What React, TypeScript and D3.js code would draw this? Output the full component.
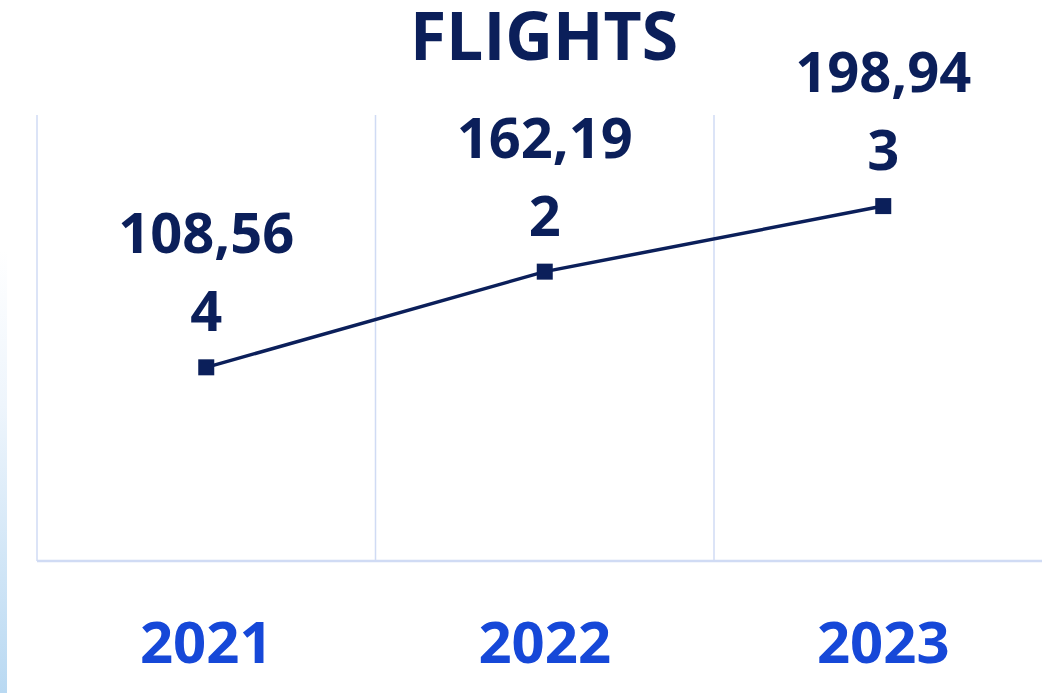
import React from "react";
import * as d3 from "d3";

const categories = ["2021", "2022", "2023"];
const flights = [108564, 162192, 198943];
const labelLine1 = ["108,56", "162,19", "198,94"];
const labelLine2 = ["4", "2", "3"];
const yDomain = [0, 250000];

const W = 1042, H = 693;
const left = 37, top = 115, bottom = 561, right = 1052.5;
const navy = "#0b1f5a";
const blue = "#1648d8";
const grid = "#d0dbf4";
const font = "'Open Sans', sans-serif";

export default function App() {
  const x = d3.scaleBand<string>().domain(categories).range([left, right]);
  const y = d3.scaleLinear().domain(yDomain).range([bottom, top]);
  const cx = (c: string) => (x(c) as number) + x.bandwidth() / 2;
  const line = d3.line<number>().x((_, i) => cx(categories[i])).y((d) => y(d));
  const gridXs = categories.map((c) => x(c) as number).concat([right]);

  return (
    <svg width={W} height={H} style={{ position: "absolute", left: 0, top: 0 }}>
      <defs>
        <linearGradient id="side" x1="0" y1="0" x2="0" y2="1">
          <stop offset="0" stopColor="#ffffff" />
          <stop offset="0.35" stopColor="#eef5fc" />
          <stop offset="1" stopColor="#b9d9f2" />
        </linearGradient>
      </defs>
      <rect x={0} y={0} width={W} height={H} fill="#ffffff" />
      <rect x={0} y={250} width={7} height={H - 250} fill="url(#side)" />
      {gridXs.map((gx, i) => (
        <line key={i} x1={gx} x2={gx} y1={top} y2={bottom} stroke={grid} strokeWidth={1.5} />
      ))}
      <line x1={left} x2={W} y1={bottom} y2={bottom} stroke={grid} strokeWidth={2.5} />
      <text x={544} y={60} textAnchor="middle" fontFamily={font} fontWeight={700} fontSize={66} fill={navy}>
        FLIGHTS
      </text>
      <path d={line(flights) || ""} fill="none" stroke={navy} strokeWidth={3.5} />
      {flights.map((v, i) => (
        <rect key={i} x={cx(categories[i]) - 8} y={y(v) - 8} width={16} height={16} fill={navy} />
      ))}
      {flights.map((v, i) => (
        <g key={"l" + i} fontFamily={font} fontWeight={700} fontSize={56} fill={navy} textAnchor="middle">
          <text x={cx(categories[i])} y={y(v) - 114}>{labelLine1[i]}</text>
          <text x={cx(categories[i])} y={y(v) - 36}>{labelLine2[i]}</text>
        </g>
      ))}
      {categories.map((c) => (
        <text key={c} x={cx(c)} y={663} textAnchor="middle" fontFamily={font} fontWeight={700} fontSize={58} fill={blue}>
          {c}
        </text>
      ))}
    </svg>
  );
}
